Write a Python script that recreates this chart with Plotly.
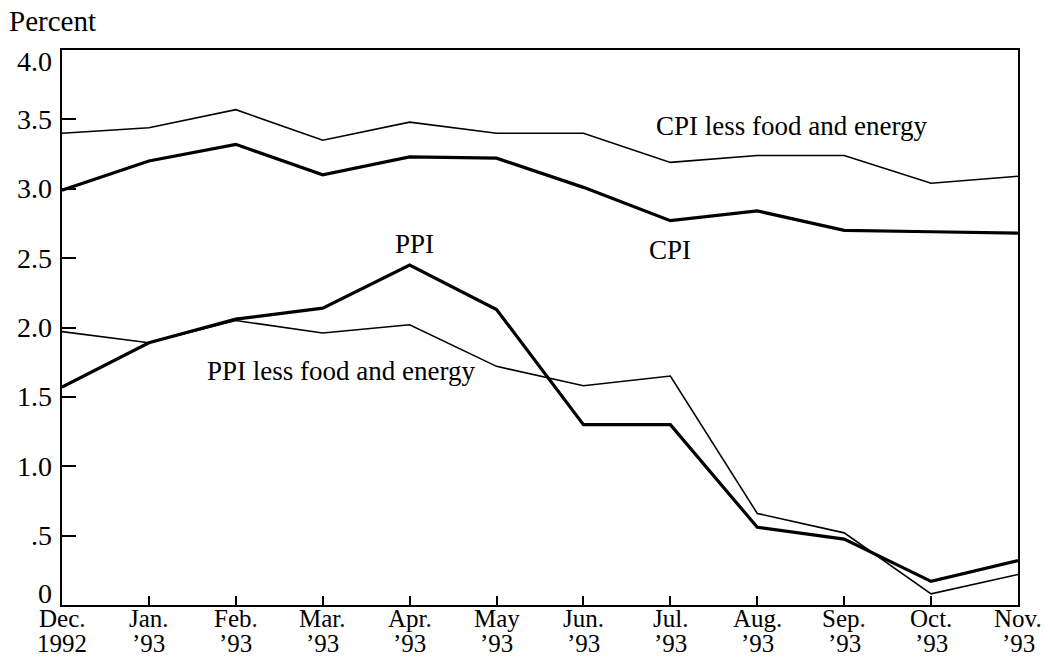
import plotly.graph_objects as go

months = ["Dec.", "Jan.", "Feb.", "Mar.", "Apr.", "May", "Jun.", "Jul.", "Aug.", "Sep.", "Oct.", "Nov."]
years = ["1992", "’93", "’93", "’93", "’93", "’93", "’93", "’93", "’93", "’93", "’93", "’93"]
cpi_core = [3.40, 3.44, 3.57, 3.35, 3.48, 3.40, 3.40, 3.19, 3.24, 3.24, 3.04, 3.09]
cpi = [2.99, 3.20, 3.32, 3.10, 3.23, 3.22, 3.01, 2.77, 2.84, 2.70, 2.69, 2.68]
ppi = [1.57, 1.89, 2.06, 2.14, 2.45, 2.13, 1.30, 1.30, 0.56, 0.475, 0.17, 0.32]
ppi_core = [1.97, 1.89, 2.05, 1.96, 2.02, 1.72, 1.58, 1.65, 0.66, 0.52, 0.08, 0.22]
y_ticks = [0, 0.5, 1.0, 1.5, 2.0, 2.5, 3.0, 3.5, 4.0]
y_labels = ["0", ".5", "1.0", "1.5", "2.0", "2.5", "3.0", "3.5", "4.0"]

x = list(range(len(months)))
FONT = "Liberation Serif"

fig = go.Figure()
fig.add_trace(go.Scatter(x=x, y=cpi_core, mode="lines", line=dict(color="black", width=1.6)))
fig.add_trace(go.Scatter(x=x, y=cpi, mode="lines", line=dict(color="black", width=3.2)))
fig.add_trace(go.Scatter(x=x, y=ppi_core, mode="lines", line=dict(color="black", width=1.6)))
fig.add_trace(go.Scatter(x=x, y=ppi, mode="lines", line=dict(color="black", width=3.2)))

ann = [
    ("CPI less food and energy", 8.39, 3.45),
    ("CPI", 7.0, 2.56),
    ("PPI", 4.06, 2.60),
    ("PPI less food and energy", 3.21, 1.69),
]
for t, ax, ay in ann:
    fig.add_annotation(x=ax, y=ay, text=t, showarrow=False, xanchor="center", yanchor="middle",
                       font=dict(family=FONT, size=27, color="black"))

# two-row x tick labels: month then year
for xi, mo, yr in zip(x, months, years):
    fig.add_annotation(x=xi, y=0, yref="y", text=mo, showarrow=False, xanchor="center",
                       yanchor="middle", yshift=-13, font=dict(family=FONT, size=25, color="black"))
    fig.add_annotation(x=xi, y=0, yref="y", text=yr, showarrow=False, xanchor="center",
                       yanchor="middle", yshift=-38, font=dict(family=FONT, size=25, color="black"))

# y tick labels (end labels nudged inward as in the original)
for i, (yv, lab) in enumerate(zip(y_ticks, y_labels)):
    shift = 12 if i == 0 else (-11 if i == len(y_ticks) - 1 else 0)
    fig.add_annotation(x=0, xref="paper", y=yv, yref="y", text=lab, showarrow=False,
                       xanchor="right", yanchor="middle", xshift=-8, yshift=shift,
                       font=dict(family=FONT, size=28, color="black"))

fig.add_annotation(x=0, y=1, xref="paper", yref="paper", xshift=-55, yshift=47,
                   text="Percent", showarrow=False, xanchor="left", yanchor="top",
                   font=dict(family=FONT, size=29, color="black"))

fig.update_layout(
    width=1050, height=660,
    margin=dict(l=62, r=32, t=50, b=55, autoexpand=False),
    paper_bgcolor="white", plot_bgcolor="white",
    showlegend=False,
    font=dict(family=FONT, size=24, color="black"),
)
fig.update_xaxes(range=[0, 11], tickvals=x, showticklabels=False, ticks="inside", ticklen=9,
                 tickwidth=1.5, tickcolor="black", showgrid=False, zeroline=False,
                 showline=True, linecolor="black", linewidth=2, mirror=True, automargin=False)
fig.update_yaxes(range=[0, 4], tickvals=y_ticks, showticklabels=False, ticks="inside", ticklen=14,
                 tickwidth=1.5, tickcolor="black", showgrid=False, zeroline=False,
                 showline=True, linecolor="black", linewidth=2, mirror=True, automargin=False)

fig.write_html("out.html", config={"displayModeBar": False},
               post_script="document.body.style.margin='0';")
